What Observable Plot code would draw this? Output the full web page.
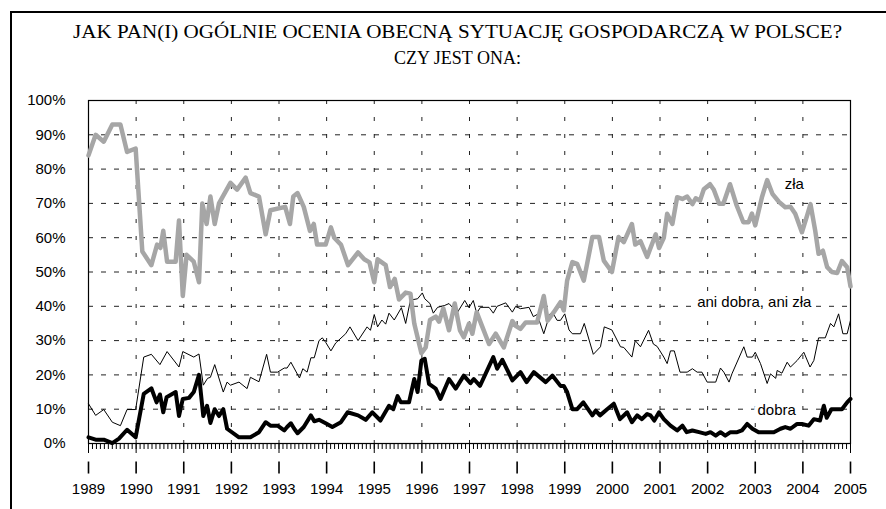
<!DOCTYPE html>
<html><head><meta charset="utf-8">
<script src="https://cdn.jsdelivr.net/npm/d3@7"></script>
<script src="https://cdn.jsdelivr.net/npm/@observablehq/plot@0.6"></script>
<style>
html,body{margin:0;padding:0;background:#fff;}
#wrap{position:relative;width:886px;height:509px;overflow:hidden;}
#border{position:absolute;left:10px;top:11px;width:900px;height:600px;border-left:2px solid #000;border-top:2px solid #000;}
#title{position:absolute;left:0;top:0;width:100%;}
#chart{position:absolute;left:0;top:0;}
</style>
</head><body>
<div id="wrap"><div id="border"></div><svg id="title" width="886" height="80"></svg><div id="chart"></div></div>
<script>
const titleLines = ["JAK PAN(I) OGÓLNIE OCENIA OBECNĄ SYTUACJĘ GOSPODARCZĄ W POLSCE?", "CZY JEST ONA:"];
const years = d3.range(1989, 2006);
const gridYears = d3.range(1990, 2005);
const yTicks = d3.range(0, 101, 10);
const gridYTicks = d3.range(10, 100, 10);
const months = d3.range(0, 193).map(i => 1989 + i / 12);

// [decimal year, %]
const zla = [[1989.00,84],[1989.15,90],[1989.32,88],[1989.50,93],[1989.67,93],[1989.81,85],[1989.99,86],[1990.13,56],[1990.32,52],[1990.44,58],[1990.51,57],[1990.57,62],[1990.65,53],[1990.83,53],[1990.90,65],[1990.98,43],[1991.06,55],[1991.21,53],[1991.32,47],[1991.39,70],[1991.48,64],[1991.56,72],[1991.65,64],[1991.74,70],[1991.98,76],[1992.12,74],[1992.30,77.5],[1992.40,73],[1992.58,72],[1992.72,61],[1992.82,68],[1993.13,69],[1993.23,64],[1993.30,72],[1993.39,73],[1993.52,69],[1993.65,62],[1993.73,64],[1993.80,58],[1993.98,58],[1994.09,63],[1994.16,60],[1994.30,58],[1994.45,52],[1994.66,55.7],[1994.79,53.7],[1994.90,52.8],[1995.00,47],[1995.07,53.7],[1995.24,52],[1995.33,45.6],[1995.43,48],[1995.52,42],[1995.66,44],[1995.76,43.7],[1995.84,35],[1995.99,26.3],[1996.08,28],[1996.17,36],[1996.29,37],[1996.36,35.5],[1996.45,39.4],[1996.57,33],[1996.69,40.8],[1996.80,33],[1996.88,31],[1996.99,35],[1997.06,32],[1997.15,38.3],[1997.27,34],[1997.41,29],[1997.55,32],[1997.72,28],[1997.90,35.7],[1997.97,34.3],[1998.07,33.4],[1998.18,35.3],[1998.42,35.3],[1998.56,43],[1998.64,35.8],[1998.77,38.3],[1998.91,41.2],[1998.98,38.8],[1999.05,47.5],[1999.16,52.9],[1999.26,52.4],[1999.40,47.5],[1999.58,60.2],[1999.72,60.2],[1999.82,53.3],[1999.99,50],[2000.13,60.2],[2000.24,58.7],[2000.41,64],[2000.48,58],[2000.59,59],[2000.73,54.4],[2000.91,61],[2000.98,57],[2001.08,60],[2001.15,67],[2001.26,64],[2001.36,71.8],[2001.47,71.3],[2001.57,72],[2001.68,69.8],[2001.75,71.5],[2001.84,70.8],[2001.92,74.1],[2002.05,75.6],[2002.13,74],[2002.24,69.9],[2002.33,69.9],[2002.47,75.6],[2002.61,69.4],[2002.75,64.5],[2002.86,64.5],[2002.93,67],[2003.00,63.6],[2003.14,71.8],[2003.25,76.8],[2003.36,72.8],[2003.50,70.4],[2003.63,68.9],[2003.74,69],[2003.84,67],[2003.98,61.6],[2004.09,66.5],[2004.16,69.8],[2004.26,62],[2004.33,55.3],[2004.42,56.2],[2004.51,51.4],[2004.61,50],[2004.72,49.7],[2004.82,53.2],[2004.93,51.4],[2005.00,45.8]];

const ani = [[1989.00,11.6],[1989.15,8.2],[1989.32,9.9],[1989.50,6.2],[1989.67,5.2],[1989.81,9.9],[1989.99,9.9],[1990.16,25.2],[1990.32,26],[1990.50,23],[1990.65,26.8],[1990.90,22.3],[1990.98,26.8],[1991.21,25.2],[1991.32,26.1],[1991.41,17],[1991.50,19],[1991.56,19.3],[1991.65,23],[1991.83,15],[1991.91,17.9],[1991.98,17],[1992.16,17.9],[1992.33,16],[1992.40,19.3],[1992.58,18],[1992.74,26],[1992.82,20.8],[1992.97,20.8],[1993.11,22],[1993.17,22],[1993.25,23.7],[1993.43,19.1],[1993.50,21.8],[1993.59,20.8],[1993.67,25],[1993.74,25],[1993.84,30],[1993.91,30.8],[1993.98,29.5],[1994.09,27],[1994.19,29.3],[1994.40,32],[1994.49,34],[1994.66,30],[1994.85,34],[1994.92,33],[1995.00,37.6],[1995.07,34],[1995.16,36],[1995.24,34.8],[1995.31,38],[1995.42,36],[1995.57,39.6],[1995.66,35],[1995.76,41.8],[1995.91,42.2],[1996.01,43.9],[1996.06,42.2],[1996.17,40.8],[1996.24,38],[1996.33,39.7],[1996.47,40.2],[1996.57,40.8],[1996.64,39.7],[1996.75,38.3],[1996.90,41.7],[1996.99,39.6],[1997.08,41.7],[1997.15,38],[1997.23,39.7],[1997.41,39.7],[1997.50,38],[1997.58,40],[1997.76,41],[1997.90,38.3],[1997.97,40],[1998.07,39.3],[1998.25,39.7],[1998.34,37],[1998.42,37.6],[1998.56,32],[1998.69,37.8],[1998.77,37.6],[1998.84,35.9],[1998.91,35.9],[1999.00,37.8],[1999.09,33.1],[1999.16,32],[1999.33,32],[1999.41,35],[1999.60,26],[1999.75,28.2],[1999.83,34],[1999.99,33.1],[2000.17,28.2],[2000.24,28],[2000.41,25.2],[2000.48,30],[2000.59,28.2],[2000.76,33],[2000.86,29],[2000.94,28.3],[2001.08,25.2],[2001.15,23.3],[2001.22,27],[2001.30,27],[2001.42,20.8],[2001.57,20.8],[2001.68,21.8],[2001.78,20.8],[2001.88,20.8],[2001.99,17.9],[2002.17,17.9],[2002.27,22],[2002.34,20.8],[2002.45,17.9],[2002.51,20.3],[2002.76,28.2],[2002.83,25.2],[2002.94,25.2],[2003.00,26.6],[2003.11,23.3],[2003.25,17.5],[2003.32,20.3],[2003.43,19],[2003.46,21.3],[2003.56,20.5],[2003.67,23.7],[2003.74,22.3],[2003.88,24.2],[2004.02,26.6],[2004.15,22.3],[2004.23,24.2],[2004.33,30.8],[2004.47,30.8],[2004.58,35],[2004.65,34],[2004.75,37.8],[2004.84,32],[2004.93,32],[2005.00,35.9]];

const dobra = [[1989.00,1.8],[1989.15,1.1],[1989.32,1.1],[1989.50,0.1],[1989.64,1.4],[1989.81,4],[1989.99,1.8],[1990.16,14.5],[1990.32,16.1],[1990.43,12],[1990.50,14.3],[1990.57,9.1],[1990.64,13.5],[1990.83,15],[1990.90,8],[1990.98,13],[1991.11,13.3],[1991.21,15],[1991.32,20],[1991.41,8],[1991.49,11],[1991.56,6],[1991.65,10],[1991.74,8],[1991.83,10],[1991.91,4.3],[1992.16,1.8],[1992.40,1.8],[1992.58,3.3],[1992.72,6.2],[1992.82,5.2],[1992.97,5.2],[1993.11,3.8],[1993.17,4.8],[1993.25,5.9],[1993.32,4.3],[1993.39,3],[1993.52,4.8],[1993.67,8.2],[1993.74,6.5],[1993.84,6.9],[1993.98,5.9],[1994.12,4.8],[1994.30,6.2],[1994.44,9.1],[1994.66,8.2],[1994.82,6.9],[1994.96,9.1],[1995.13,6.7],[1995.31,11],[1995.40,10],[1995.49,13.8],[1995.56,12],[1995.73,12],[1995.84,18.8],[1995.91,15],[1995.99,24.2],[1996.06,24.7],[1996.15,17.4],[1996.29,16],[1996.39,13],[1996.57,18.8],[1996.71,16],[1996.88,19.8],[1997.02,17.6],[1997.09,18.8],[1997.22,16.8],[1997.50,25.2],[1997.58,21.8],[1997.69,24.4],[1997.90,18.4],[1998.07,20.8],[1998.20,17.9],[1998.35,20.8],[1998.60,17.9],[1998.74,19.8],[1998.91,16.8],[1998.98,16.8],[1999.05,15],[1999.16,10],[1999.26,10],[1999.39,12],[1999.58,8.2],[1999.65,9.6],[1999.74,8.2],[1999.89,10],[2000.03,11.6],[2000.16,7.1],[2000.31,9.1],[2000.41,6.2],[2000.52,8.2],[2000.62,7.1],[2000.73,8.6],[2000.80,8.2],[2000.88,6.7],[2000.98,9.1],[2001.08,7.1],[2001.22,5.2],[2001.36,3.8],[2001.47,5.2],[2001.56,3.3],[2001.68,3.8],[2001.82,3.3],[2001.96,2.8],[2002.06,3.3],[2002.17,2.3],[2002.27,3.3],[2002.37,2.3],[2002.48,3.3],[2002.62,3.3],[2002.72,3.8],[2002.83,5.7],[2002.94,4.3],[2003.07,3.3],[2003.39,3.3],[2003.53,4.3],[2003.63,4.8],[2003.74,4.3],[2003.88,5.7],[2003.98,5.7],[2004.12,5.2],[2004.23,7.1],[2004.36,6.7],[2004.44,11],[2004.50,7.5],[2004.60,10],[2004.82,10],[2004.93,12],[2005.00,13]];

const seriesLabels = [
  {text: "zła", x: 2003.82, y: 75.5},
  {text: "ani dobra, ani zła", x: 2002.98, y: 41.1},
  {text: "dobra", x: 2003.45, y: 9.6}
];
// detached year tick band below the axis, in % units below zero
const yearTickBand = {from: -5.4, to: -8.9};

// title
const tsvg = d3.select("#title");
tsvg.selectAll("text").data(titleLines).join("text")
  .attr("x", 457.5).attr("y", (d, i) => 38 + i * 26)
  .attr("text-anchor", "middle")
  .attr("font-family", "'Liberation Serif','Times New Roman',serif")
  .attr("font-size", 18).attr("fill", "#000")
  .attr("textLength", (d, i) => i === 0 ? 769 : null)
  .attr("lengthAdjust", "spacingAndGlyphs")
  .text(d => d);

const font = "'Liberation Sans', Arial, sans-serif";
const noText = () => "";
const plot = Plot.plot({
  width: 886, height: 509,
  marginTop: 100, marginBottom: 66, marginLeft: 88, marginRight: 36,
  style: {fontFamily: font, fontSize: "15px", background: "transparent", overflow: "visible"},
  x: {domain: [1989, 2005], axis: null},
  y: {domain: [0, 100], axis: null},
  marks: [
    Plot.gridY({ticks: gridYTicks, stroke: "#222", strokeOpacity: 1, strokeWidth: 1, strokeDasharray: "5,8"}),
    Plot.gridX({ticks: gridYears, stroke: "#222", strokeOpacity: 1, strokeWidth: 1, strokeDasharray: "4,13"}),
    Plot.frame({stroke: "#000", strokeWidth: 1.2}),
    Plot.axisY({ticks: yTicks, tickSize: 0, tickPadding: 23, tickFormat: d => d + "%", fontSize: 15, label: null}),
    Plot.axisX({ticks: months, tickSize: 6, tickFormat: noText, label: null}),
    Plot.axisX({ticks: years, tickSize: 10, tickFormat: noText, label: null}),
    Plot.ruleX(years, {x: d => d, y1: yearTickBand.from, y2: yearTickBand.to, stroke: "#000", strokeWidth: 1.6, clip: false}),
    Plot.axisX({ticks: years, tickSize: 0, tickPadding: 40, tickFormat: d => String(d), fontSize: 15, label: null}),
    Plot.text(seriesLabels, {x: "x", y: "y", text: "text", fontSize: 15, fill: "#000", stroke: "white", strokeWidth: 8, paintOrder: "stroke"}),
    Plot.line(ani, {x: d => d[0], y: d => d[1], stroke: "#000", strokeWidth: 1}),
    Plot.line(zla, {x: d => d[0], y: d => d[1], stroke: "#a6a6a6", strokeWidth: 4.5}),
    Plot.line(dobra, {x: d => d[0], y: d => d[1], stroke: "#000", strokeWidth: 4})
  ]
});
document.getElementById("chart").appendChild(plot);
</script>
</body></html>
